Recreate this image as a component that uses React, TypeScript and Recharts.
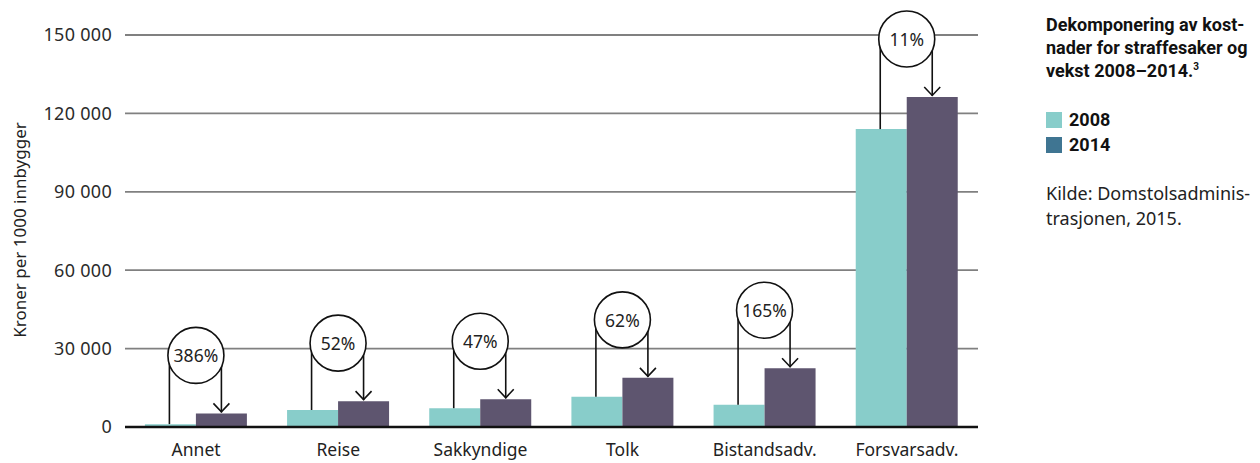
import React from "react";
import { BarChart, Bar, XAxis, YAxis, CartesianGrid, LabelList } from "recharts";

const categories = ["Annet", "Reise", "Sakkyndige", "Tolk", "Bistandsadv.", "Forsvarsadv."];
const values2008 = [1100, 6500, 7200, 11600, 8500, 114000];
const values2014 = [5200, 9900, 10600, 18800, 22500, 126300];
const growthLabels = ["386%", "52%", "47%", "62%", "165%", "11%"];
const yTicks = [0, 30000, 60000, 90000, 120000, 150000];

const data = categories.map((name, i) => ({
    name,
    v2008: values2008[i],
    v2014: values2014[i],
}));

const TEAL = "#88cdca";
const PURPLE = "#5e556f";
const LEGEND_BLUE = "#3f7592";
const FONT = "'Noto Sans', sans-serif";

const fmt = (v: number) => (v === 0 ? "0" : v.toLocaleString("en-US").replace(/,/g, " "));

// circle + connecting lines drawn on top of each 2014 bar
const GrowthMarker = (props: any) => {
    const { x, y, width, height, index } = props;
    const v14 = values2014[index];
    const v08 = values2008[index];
    const base = y + height;
    const top08 = base - (v08 / v14) * height;
    const cx = x;
    const r = 28;
    const cy = y - 58;
    const leftX = x - width / 2 - 1;
    const rightX = x + width / 2;
    return (
        <g>
            <line x1={leftX} y1={top08} x2={leftX} y2={cy} stroke="#111" strokeWidth={1.6} />
            <line x1={rightX} y1={cy} x2={rightX} y2={y - 1} stroke="#111" strokeWidth={1.6} />
            <polyline
                points={`${rightX - 8},${y - 10} ${rightX},${y - 1.5} ${rightX + 8},${y - 10}`}
                fill="none"
                stroke="#111"
                strokeWidth={1.6}
            />
            <circle cx={cx} cy={cy} r={r} fill="#fff" stroke="#111" strokeWidth={1.6} />
            <text
                x={cx}
                y={cy}
                textAnchor="middle"
                dominantBaseline="central"
                fontSize={17.5}
                fontFamily={FONT}
                fill="#222"
            >
                {growthLabels[index]}
            </text>
        </g>
    );
};

export default function App() {
    return (
        <div style={{ position: "relative", width: 1244, height: 455, fontFamily: FONT }}>
            <BarChart
                width={990}
                height={455}
                data={data}
                margin={{ top: 27, right: 20, left: 0, bottom: 6 }}
                barCategoryGap="14%"
                barGap={0}
            >
                <CartesianGrid vertical={false} stroke="#808080" strokeWidth={1.8} />
                <XAxis
                    dataKey="name"
                    height={30}
                    tickLine={false}
                    tickSize={0}
                    tickMargin={17}
                    axisLine={{ stroke: "#111", strokeWidth: 2.5 }}
                    tick={{ fontSize: 17.5, fill: "#222", fontFamily: FONT }}
                />
                <YAxis
                    width={117}
                    domain={[0, 150000]}
                    ticks={yTicks}
                    tickFormatter={fmt}
                    axisLine={false}
                    tickLine={false}
                    tickSize={0}
                    tickMargin={13}
                    tick={{ fontSize: 18, fill: "#2b2b2b", fontFamily: FONT, letterSpacing: 0.3 }}
                />
                <Bar dataKey="v2008" fill={TEAL} isAnimationActive={false} />
                <Bar dataKey="v2014" fill={PURPLE} isAnimationActive={false}>
                    <LabelList dataKey="v2014" content={<GrowthMarker />} />
                </Bar>
            </BarChart>

            <svg style={{ position: "absolute", left: 0, top: 0 }} width={40} height={455}>
                <text
                    x={11}
                    y={222}
                    transform="rotate(-90 11 222)"
                    textAnchor="middle"
                    dominantBaseline="central"
                    fontSize={17}
                    fontFamily={FONT}
                    fill="#222"
                >
                    Kroner per 1000 innbygger
                </text>
            </svg>

            <div style={{ position: "absolute", left: 1038, top: 5, width: 220, color: "#111" }}>
                <div style={{ fontFamily: "Roboto, sans-serif", fontWeight: 700, fontSize: 18, lineHeight: "23px" }}>
                    Dekomponering av kost-
                    <br />
                    nader for straffesaker og
                    <br />
                    vekst 2008–2014.<sup style={{ fontSize: 10, verticalAlign: "top", lineHeight: "16px" }}>3</sup>
                </div>
                <div style={{ marginTop: 25, fontFamily: "Roboto, sans-serif", fontWeight: 700, fontSize: 18 }}>
                    <div style={{ display: "flex", alignItems: "center", height: 25 }}>
                        <span style={{ width: 16, height: 16, background: TEAL, marginRight: 7 }} />
                        2008
                    </div>
                    <div style={{ display: "flex", alignItems: "center", height: 25 }}>
                        <span style={{ width: 16, height: 16, background: LEGEND_BLUE, marginRight: 7 }} />
                        2014
                    </div>
                </div>
                <div style={{ marginTop: 24, fontSize: 18, lineHeight: "25px", color: "#222" }}>
                    Kilde: Domstolsadminis-
                    <br />
                    trasjonen, 2015.
                </div>
            </div>
        </div>
    );
}
